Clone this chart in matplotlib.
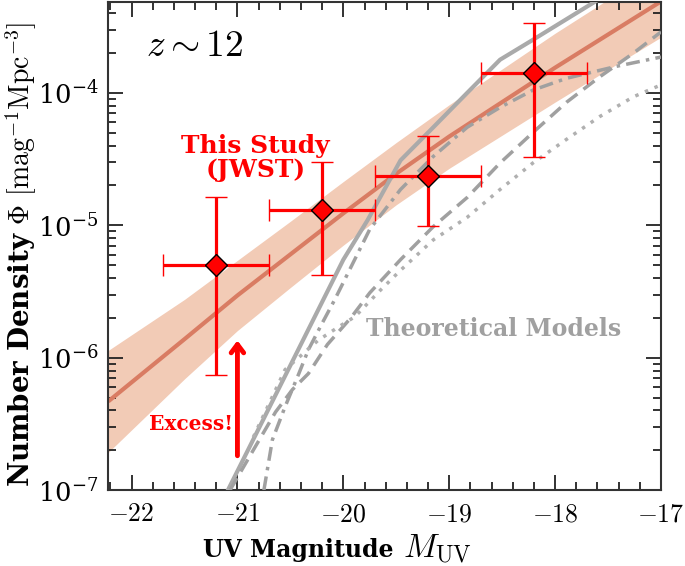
import numpy as np
import matplotlib
matplotlib.use("Agg")
import matplotlib.pyplot as plt
from matplotlib.ticker import FixedLocator, MultipleLocator, LogLocator, NullFormatter

plt.rcParams['mathtext.fontset'] = 'cm'
plt.rcParams['font.family'] = ['DejaVu Serif']

# ---- data ----
muv_obs = [-21.2, -20.2, -19.2, -18.2]
phi_obs = [5.0e-6, 1.31e-5, 2.35e-5, 1.42e-4]
phi_obs_hi = [1.63e-5, 3.0e-5, 4.7e-5, 3.37e-4]
phi_obs_lo = [7.4e-7, 4.2e-6, 9.8e-6, 3.3e-5]
muv_xerr = [0.5, 0.5, 0.5, 0.5]

fit_x = [-22.22, -21.5, -21.0, -20.5, -20.0, -19.5, -19.0, -18.5, -18.0, -17.5, -17.0]
fit_log = [-6.33, -5.86, -5.53, -5.22, -4.91, -4.61, -4.33, -4.07, -3.81, -3.56, -3.31]
band_lo_log = [-6.715, -6.16, -5.795, -5.47, -5.15, -4.845, -4.57, -4.32, -4.07, -3.825, -3.58]
band_hi_log = [-5.945, -5.56, -5.265, -4.97, -4.67, -4.375, -4.09, -3.82, -3.55, -3.295, -3.04]

solid_x = [-21.09, -20.00, -19.77, -19.46, -19.15, -18.83, -18.52, -18.21, -17.64, -17.3]
solid_log = [-7.00, -5.26, -4.96, -4.51, -4.26, -4.00, -3.75, -3.60, -3.32, -3.15]

dashdot_x = [-20.75, -20.67, -20.55, -20.42, -20.33, -20.20, -20.08, -19.75, -19.46, -19.15,
             -18.83, -18.52, -18.21, -17.89, -17.42, -17.00]
dashdot_log = [-7.00, -6.62, -6.37, -6.12, -5.94, -5.74, -5.56, -5.03, -4.73, -4.48,
               -4.26, -4.11, -3.98, -3.89, -3.80, -3.73]

dashed_x = [-21.07, -20.83, -20.64, -20.48, -20.33, -20.15, -19.93, -19.75, -19.46, -19.15,
            -18.83, -18.52, -18.21, -17.89, -17.58, -17.26, -17.00]
dashed_log = [-7.00, -6.67, -6.41, -6.24, -6.12, -5.90, -5.70, -5.51, -5.26, -5.01,
              -4.79, -4.53, -4.30, -4.07, -3.88, -3.70, -3.54]

dotted_x = [-20.85, -20.55, -20.24, -20.05, -19.89, -19.65, -19.46, -19.15, -18.83, -18.52,
            -18.21, -17.89, -17.58, -17.26, -17.00]
dotted_log = [-6.60, -6.09, -5.87, -5.77, -5.69, -5.49, -5.34, -5.11, -4.94, -4.73,
              -4.53, -4.35, -4.18, -4.03, -3.94]

xticks = [-22, -21, -20, -19, -18, -17]

# ---- figure ----
fig = plt.figure(figsize=(6.85, 5.66), dpi=100)
ax = fig.add_axes([0.158, 0.134, 0.807, 0.8625])

p = lambda a: 10.0 ** np.asarray(a)

ax.fill_between(fit_x, p(band_lo_log), p(band_hi_log), color='#f2cbb6', lw=0, zorder=1)
ax.plot(fit_x, p(fit_log), color='#d97c63', lw=3, zorder=2, solid_capstyle='butt')

ax.plot(solid_x, p(solid_log), color='#aaaaaa', lw=3, zorder=3)
ax.plot(dashed_x, p(dashed_log), color='#a0a0a0', lw=2.5, ls=(0, (4, 2.2)), zorder=3)
ax.plot(dashdot_x, p(dashdot_log), color='#a0a0a0', lw=2.5, ls=(0, (4, 1.8, 1, 1.8)), zorder=3)
ax.plot(dotted_x, p(dotted_log), color='#b0b0b0', lw=2.5, ls=(0, (1, 2.0)), zorder=3)

phi_obs_a = np.array(phi_obs)
yerr = [phi_obs_a - np.array(phi_obs_lo), np.array(phi_obs_hi) - phi_obs_a]
ax.errorbar(muv_obs, phi_obs, xerr=muv_xerr, yerr=yerr, fmt='D', color='red',
            mfc='red', mec='black', mew=1.0, ms=11.5, elinewidth=2.3, capsize=8,
            capthick=2.3, zorder=5)

ax.annotate('', xy=(-21.0, 1.35e-6), xytext=(-21.0, 1.82e-7),
            arrowprops=dict(arrowstyle='->,head_length=0.6,head_width=0.45',
                            color='red', lw=3.5, shrinkA=0, shrinkB=0), zorder=6)

ax.text(-21.86, 2.24e-4, r'$z\sim12$', fontsize=27, ha='left', va='center')
ax.text(-20.83, 3.2e-5, 'This Study\n(JWST)', fontsize=18, fontweight='bold',
        color='red', ha='center', va='center', linespacing=1.0)
ax.text(-18.58, 1.65e-6, 'Theoretical Models', fontsize=17, fontweight='bold',
        color='#a0a0a0', ha='center', va='center')
ax.text(-21.44, 3.16e-7, 'Excess!', fontsize=14.5, fontweight='bold',
        color='red', ha='center', va='center')

ax.set_yscale('log')
ax.set_xlim(-22.22, -17.0)
ax.set_ylim(1e-7, 4.85e-4)

ax.xaxis.set_major_locator(FixedLocator(xticks))
ax.xaxis.set_minor_locator(MultipleLocator(0.2))
ax.set_xticklabels([r'$-%d$' % abs(t) for t in xticks])
ax.yaxis.set_major_locator(LogLocator(base=10, numticks=10))
ax.yaxis.set_minor_locator(LogLocator(base=10, subs=np.arange(2, 10), numticks=20))
ax.yaxis.set_minor_formatter(NullFormatter())

ax.tick_params(which='both', direction='in', top=True, right=True, width=1.3, color='#222222')
ax.tick_params(which='major', length=11, labelsize=18.5, pad=8)
ax.tick_params(axis='y', which='major', pad=7)
ax.tick_params(which='minor', length=5.5)
for s in ax.spines.values():
    s.set_linewidth(1.5)
    s.set_color('#333333')

# axis labels placed explicitly
base_y = 1 - 557 / 566
fig.text(203 / 685, base_y, 'UV Magnitude', fontsize=17, fontweight='bold',
         ha='left', va='baseline')
fig.text(403 / 685, base_y, r'$M_{\rm UV}$', fontsize=24, ha='left', va='baseline')

fig.text(21 / 685, 1 - 254 / 566, r'Number Density $\Phi\ [\rm mag^{-1}Mpc^{-3}]$',
         fontsize=20, fontweight='bold', rotation=90, ha='center', va='center')

fig.savefig('out.png', dpi=100)
